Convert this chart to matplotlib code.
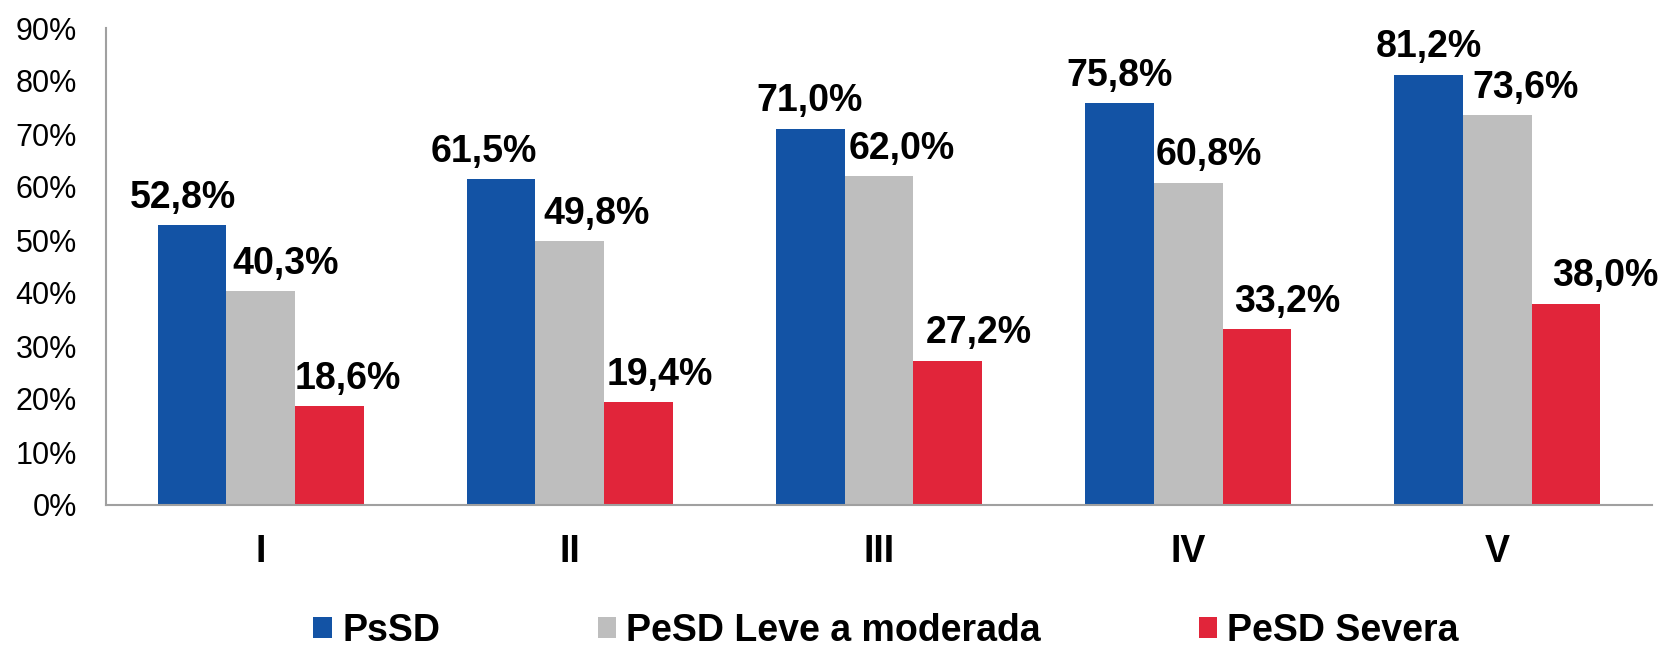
import matplotlib
matplotlib.use("Agg")
import matplotlib.pyplot as plt
import numpy as np
from matplotlib.patches import Patch

plt.rcParams['font.family'] = ['Liberation Sans', 'DejaVu Sans']

categories = ["I", "II", "III", "IV", "V"]
series_names = ["PsSD", "PeSD Leve a moderada", "PeSD Severa"]
psd = [52.8, 61.5, 71.0, 75.8, 81.2]
pesd_leve = [40.3, 49.8, 62.0, 60.8, 73.6]
pesd_severa = [18.6, 19.4, 27.2, 33.2, 38.0]
y_ticks = [0, 10, 20, 30, 40, 50, 60, 70, 80, 90]
y_tick_labels = ["0%", "10%", "20%", "30%", "40%", "50%", "60%", "70%", "80%", "90%"]

colors = ["#1353A5", "#BEBEBE", "#E1253A"]
# horizontal pixel nudges of the value labels (as placed in the original)
label_dx = [[-9, -17, -1, 0, 0],
            [25, 27, 23, 21, 28],
            [19, 21, 31, 30, 39]]

W, H = 1661, 652
fig = plt.figure(figsize=(W / 100, H / 100), dpi=100)
ax = fig.add_axes([106 / W, 1 - 505 / H, (1652 - 106) / W, (505 - 28) / H])

x = np.arange(len(categories))
bw = 0.222
all_series = [psd, pesd_leve, pesd_severa]
for i, (vals, col) in enumerate(zip(all_series, colors)):
    xs = x + (i - 1) * bw
    ax.bar(xs, vals, width=bw, color=col, edgecolor='none', zorder=2)
    for j, (xi, v) in enumerate(zip(xs, vals)):
        ax.annotate(f"{v:.1f}".replace('.', ',') + "%", xy=(xi, v),
                    xytext=(label_dx[i][j] * 0.72, 12.5), textcoords='offset points',
                    ha='center', va='baseline', fontsize=27, fontweight='bold',
                    color='black')

ax.set_xlim(-0.5, len(categories) - 0.5)
ax.set_ylim(0, 90)
ax.set_yticks(y_ticks)
ax.set_yticklabels(y_tick_labels)
ax.set_xticks(x)
ax.set_xticklabels(categories, fontsize=27, fontweight='bold')
ax.tick_params(axis='y', length=0, labelsize=22, pad=21)
ax.tick_params(axis='x', length=0, pad=21)

for s in ['top', 'right']:
    ax.spines[s].set_visible(False)
for s in ['left', 'bottom']:
    ax.spines[s].set_color('#A0A0A0')
    ax.spines[s].set_linewidth(1.5)

handles = [Patch(facecolor=c, edgecolor='none') for c in colors]
fig.legend(handles, series_names, loc='center',
           bbox_to_anchor=(886 / W, 1 - 631 / H), ncol=3, frameon=False,
           prop={'size': 27, 'weight': 'bold'},
           handlelength=0.5, handleheight=0.5, handletextpad=0.27,
           columnspacing=4.2, borderaxespad=0, borderpad=0)

fig.savefig("out.png", dpi=100)
